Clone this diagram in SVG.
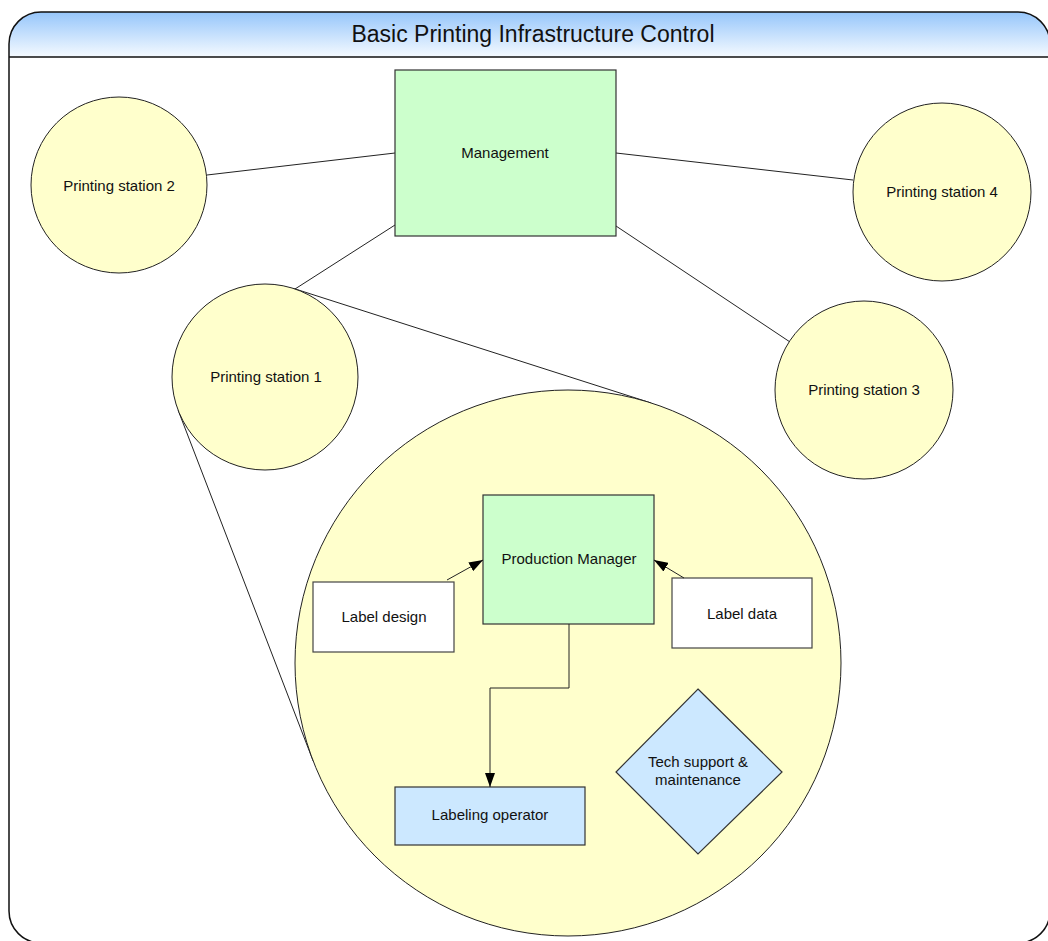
<svg xmlns="http://www.w3.org/2000/svg" width="1048" height="941" viewBox="0 0 1048 941">
<defs>
<linearGradient id="hdr" x1="0" y1="0" x2="0" y2="1">
<stop offset="0" stop-color="#96c6fb"/>
<stop offset="1" stop-color="#f5faff"/>
</linearGradient>
<marker id="arr" viewBox="0 0 14 10" refX="14" refY="5" markerWidth="14" markerHeight="10" markerUnits="userSpaceOnUse" orient="auto">
<path d="M0,0 L14,5 L0,10 Z" fill="#000"/>
</marker>
<style>
.lbl{font-family:"Liberation Sans",Arial,sans-serif;font-size:15px;fill:#111;text-anchor:middle}
.ttl{font-family:"Liberation Sans",Arial,sans-serif;font-size:23px;fill:#111;text-anchor:middle}
.yel{fill:#ffffcc;stroke:#222;stroke-width:1}
.grn{fill:#ccffcc;stroke:#333;stroke-width:1.2}
.wht{fill:#fff;stroke:#444;stroke-width:1.2}
.blu{fill:#cce8ff;stroke:#333;stroke-width:1.2}
.con{fill:none;stroke:#222;stroke-width:1}
</style>
</defs>
<rect width="1048" height="941" fill="#fff"/>
<g id="frame">
<path d="M9,57 V44 A32,32 0 0 1 41,12 H1018 A32,32 0 0 1 1050,44 V57 Z" fill="url(#hdr)" stroke="none"/>
<path d="M9,57 H1050 V911 A32,32 0 0 1 1018,943 H41 A32,32 0 0 1 9,911 Z" fill="#fff" stroke="none"/>
<path d="M9,57 V44 A32,32 0 0 1 41,12 H1018 A32,32 0 0 1 1050,44 V911 A32,32 0 0 1 1018,943 H41 A32,32 0 0 1 9,911 Z" fill="none" stroke="#111" stroke-width="1.5"/>
<line x1="9" y1="57" x2="1050" y2="57" stroke="#111" stroke-width="1.5"/>
<text class="ttl" x="533" y="42">Basic Printing Infrastructure Control</text>
</g>
<g id="connectors">
<line class="con" x1="207" y1="175" x2="395" y2="153"/>
<line class="con" x1="616" y1="153" x2="853" y2="180"/>
<line class="con" x1="616" y1="226" x2="790" y2="342"/>
<line class="con" x1="395" y1="225" x2="295" y2="289" stroke-width="1.6"/>
</g>
<g id="ps2"><circle class="yel" cx="119" cy="185" r="88"/><text class="lbl" x="119" y="191">Printing station 2</text></g>
<g id="ps4"><circle class="yel" cx="942" cy="192" r="89"/><text class="lbl" x="942" y="197">Printing station 4</text></g>
<g id="ps3"><circle class="yel" cx="864" cy="390" r="89"/><text class="lbl" x="864" y="395">Printing station 3</text></g>
<g id="zoom-lines">
<line class="con" x1="293.4" y1="288.4" x2="651.2" y2="403"/>
<line class="con" x1="178.2" y1="410.4" x2="313.2" y2="761.1"/>
</g>
<g id="ps1"><circle class="yel" cx="265" cy="377" r="93"/><text class="lbl" x="266" y="382">Printing station 1</text></g>
<g id="station1-detail"><circle class="yel" cx="568" cy="663" r="273"/></g>
<g id="management"><rect class="grn" x="395" y="70" width="221" height="166"/><text class="lbl" x="505" y="158">Management</text></g>
<g id="production-manager"><rect class="grn" x="483" y="495" width="171" height="129"/><text class="lbl" x="569" y="564">Production Manager</text></g>
<g id="label-design"><rect class="wht" x="313" y="582" width="141" height="70"/><text class="lbl" x="384" y="622">Label design</text></g>
<g id="label-data"><rect class="wht" x="672" y="578" width="140" height="70"/><text class="lbl" x="742" y="619">Label data</text></g>
<g id="labeling-operator"><rect class="blu" x="395" y="787" width="190" height="58"/><text class="lbl" x="490" y="820">Labeling operator</text></g>
<g id="tech-support"><polygon class="blu" points="698,689 782,772 698,854 616,772"/><text class="lbl" x="698" y="767">Tech support &amp;</text><text class="lbl" x="698" y="785">maintenance</text></g>
<g id="inner-connectors">
<line class="con" x1="447" y1="580" x2="483" y2="560" marker-end="url(#arr)"/>
<line class="con" x1="684" y1="578" x2="654" y2="560" marker-end="url(#arr)"/>
<polyline class="con" points="569,624 569,688 490,688 490,787" marker-end="url(#arr)"/>
</g>
</svg>
